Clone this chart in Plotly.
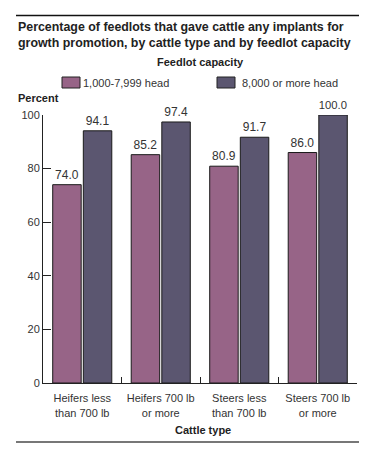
import plotly.graph_objects as go

categories = ["Heifers less<br>than 700 lb", "Heifers 700 lb<br>or more",
              "Steers less<br>than 700 lb", "Steers 700 lb<br>or more"]
small_lots = [74.0, 85.2, 80.9, 86.0]
large_lots = [94.1, 97.4, 91.7, 100.0]
series_names = ["1,000-7,999 head", "8,000 or more head"]
y_ticks = [0, 20, 40, 60, 80, 100]

OFF = 8  # page body margin
W, H = 363, 450
L, R, T, B = 35, 14, 107, 75
pw, ph = W - L - R, H - T - B

def px(x):
    return (x - OFF - L) / pw

def py(y):
    return (OFF + H - B - y) / ph

FONT = "Arial, Liberation Sans, sans-serif"
PINK = "#976487"
DARK = "#5b5670"
colors = [PINK, DARK]

fig = go.Figure()
for name, vals, col in [(series_names[0], small_lots, PINK), (series_names[1], large_lots, DARK)]:
    fig.add_trace(go.Bar(
        x=categories, y=vals, name=name,
        marker=dict(color=col, line=dict(color="#1a1a1a", width=1)),
        text=[f"{v:.1f}" for v in vals], textposition="outside",
        textfont=dict(size=12, color="#333333", family=FONT),
        cliponaxis=False,
    ))

fig.update_layout(
    width=W, height=H,
    margin=dict(l=L, r=R, t=T, b=B),
    paper_bgcolor="white", plot_bgcolor="white",
    barmode="group", bargap=0.22, bargroupgap=0.07,
    font=dict(family=FONT, size=11, color="#333333"),
    showlegend=False,
    xaxis=dict(showline=True, linecolor="#222222", linewidth=1, ticks="inside", ticklen=6,
               tickson="boundaries", tickcolor="#222222", tickfont=dict(size=11, color="#333333"),
               showgrid=False, ticklabelstandoff=5),
    yaxis=dict(range=[0, 100], tickvals=y_ticks, showline=True, linecolor="#222222", linewidth=1,
               ticks="inside", ticklen=8, tickcolor="#222222", showgrid=False, zeroline=False,
               tickfont=dict(size=11, color="#333333")),
)

anns = [
    dict(text="<b>Percentage of feedlots that gave cattle any implants for<br>growth promotion, by cattle type and by feedlot capacity</b>",
         x=px(16), y=py(35), xanchor="left", yanchor="middle", align="left",
         font=dict(size=12.4, color="#222222")),
    dict(text="<b>Feedlot capacity</b>", x=px(200), y=py(62), xanchor="center", yanchor="middle",
         font=dict(size=11, color="#222222")),
    dict(text="<b>Percent</b>", x=px(16), y=py(98), xanchor="left", yanchor="middle",
         font=dict(size=11, color="#222222")),
    dict(text="<b>Cattle type</b>", x=px(203), y=py(430), xanchor="center", yanchor="middle",
         font=dict(size=11, color="#222222")),
]
# legend (manual, from series names/colours)
leg_x = [62, 217]
for i, (name, col) in enumerate(zip(series_names, colors)):
    fig.add_shape(type="rect", xref="paper", yref="paper",
                  x0=px(leg_x[i]), x1=px(leg_x[i] + 18), y0=py(88), y1=py(77),
                  fillcolor=col, line=dict(color="#222222", width=1))
    anns.append(dict(text=name, x=px(leg_x[i] + 19 + (4 if i == 1 else 0)), y=py(82.5),
                     xanchor="left", yanchor="middle", font=dict(size=11, color="#333333")))

for a in anns:
    a.update(xref="paper", yref="paper", showarrow=False)
    fig.add_annotation(**a)

# top and bottom rules
fig.add_shape(type="line", xref="paper", yref="paper",
              x0=px(16), x1=px(359), y0=py(15.5), y1=py(15.5),
              line=dict(color="#111111", width=1.5))
fig.add_shape(type="line", xref="paper", yref="paper",
              x0=px(16), x1=px(359), y0=py(442), y1=py(442),
              line=dict(color="#777777", width=2))

fig.write_html("out.html")
